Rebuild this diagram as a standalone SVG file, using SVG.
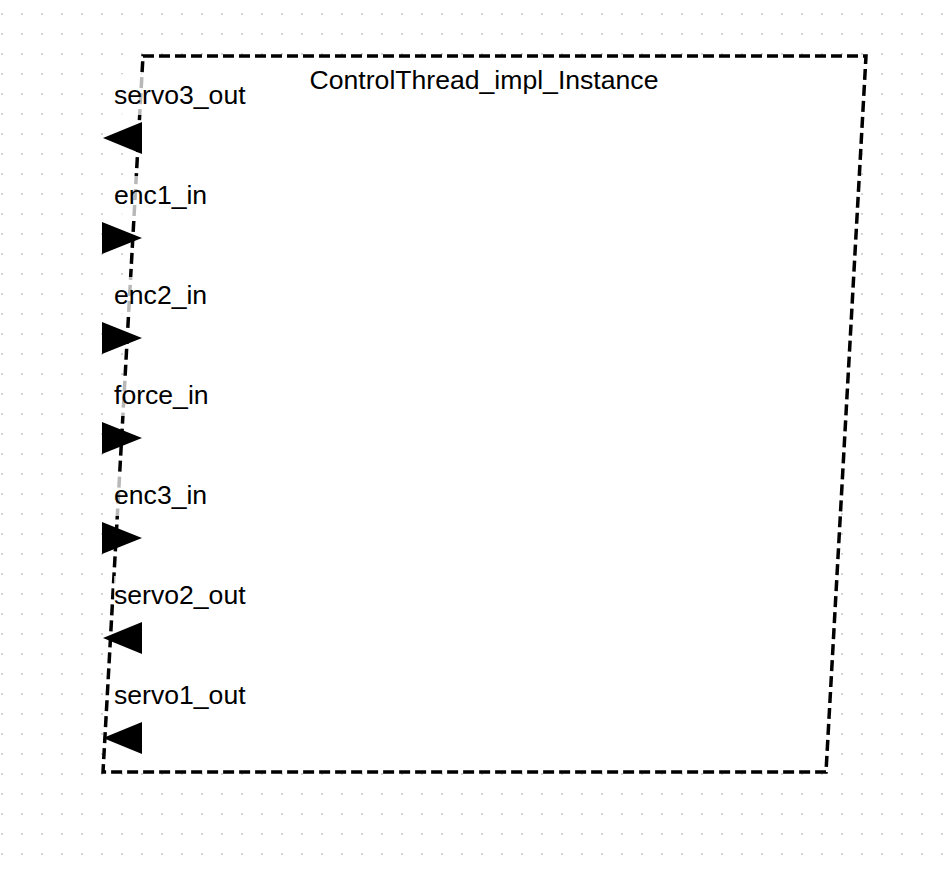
<svg xmlns="http://www.w3.org/2000/svg" width="944" height="872" viewBox="0 0 944 872">
  <defs>
    <pattern id="grid" x="0" y="0" width="20" height="20" patternUnits="userSpaceOnUse">
      <rect x="1" y="13" width="2" height="2" fill="#d4d4d4"/>
    </pattern>
  </defs>
  <style>
    .lbl { font-family: "Liberation Sans", Arial, sans-serif; font-size: 26.6px; fill: #000; }
    .bg { fill: #fff; fill-opacity: 0.72; }
    .frame { fill: #fff; stroke: #000; stroke-width: 3.5; stroke-dasharray: 11 5; }
    .port { fill: #000; stroke: none; }
  </style>
  <rect width="944" height="872" fill="#fff"/>
  <rect width="944" height="872" fill="url(#grid)"/>
  <g id="ControlThread_impl_Instance">
    <polygon class="frame" points="143,56 866,56 826,772 103,772"/>
    <text class="lbl" x="484" y="89" text-anchor="middle">ControlThread_impl_Instance</text>
  </g>
  <g id="ports">
    <g id="servo3_out">
      <rect class="bg" x="114" y="74" width="132" height="41"/>
      <polygon class="port" points="142,122 142,154 103,138"/>
      <text class="lbl" x="114" y="104">servo3_out</text>
    </g>
    <g id="enc1_in">
      <rect class="bg" x="114" y="176" width="94" height="40"/>
      <polygon class="port" points="102,222 102,254 142,238"/>
      <text class="lbl" x="114" y="204">enc1_in</text>
    </g>
    <g id="enc2_in">
      <rect class="bg" x="114" y="277" width="94" height="40"/>
      <polygon class="port" points="102,322 102,354 142,338"/>
      <text class="lbl" x="114" y="304">enc2_in</text>
    </g>
    <g id="force_in">
      <rect class="bg" x="114" y="376" width="95" height="40"/>
      <polygon class="port" points="102,422 102,454 142,438"/>
      <text class="lbl" x="114" y="404">force_in</text>
    </g>
    <g id="enc3_in">
      <rect class="bg" x="114" y="476" width="94" height="40"/>
      <polygon class="port" points="102,522 102,554 142,538"/>
      <text class="lbl" x="114" y="504">enc3_in</text>
    </g>
    <g id="servo2_out">
      <rect class="bg" x="114" y="576" width="132" height="40"/>
      <polygon class="port" points="142,622 142,654 103,638"/>
      <text class="lbl" x="114" y="604">servo2_out</text>
    </g>
    <g id="servo1_out">
      <rect class="bg" x="114" y="676" width="132" height="40"/>
      <polygon class="port" points="142,722 142,754 103,738"/>
      <text class="lbl" x="114" y="704">servo1_out</text>
    </g>
  </g>
  <g id="connectors"/>
</svg>
